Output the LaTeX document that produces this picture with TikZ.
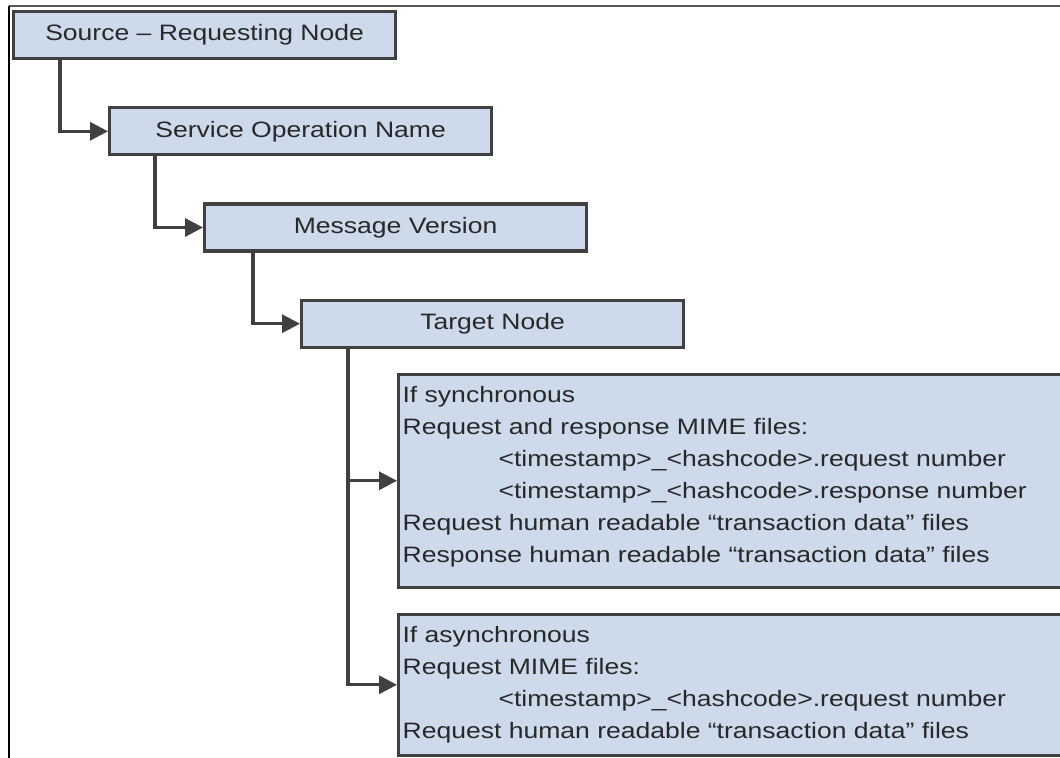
\documentclass[tikz,border=0pt]{standalone}
\usepackage{fontspec}
\setmainfont{Liberation Sans}[FakeStretch=1.19]
\usetikzlibrary{positioning, arrows.meta}
\definecolor{boxfill}{RGB}{205,218,236}
\definecolor{boxline}{RGB}{64,64,64}
\definecolor{textgrey}{RGB}{40,40,40}

\begin{document}
\begin{tikzpicture}[every node/.style = { draw = boxline, fill = boxfill, line width = 1.6pt, text = textgrey,
                                          font = \fontsize{11.15}{16}\selectfont },
                    level/.style = { minimum width = 191pt, minimum height = 23.5pt, anchor = north west },
                    filebox/.style = { inner xsep = 2pt, inner ysep = 6pt },
                    link/.style = { draw = boxline, line width = 1.6pt, -{Triangle[length = 9pt, width = 9pt]} }]

    \path [use as bounding box, clip] (0,0) rectangle (530pt,-379pt);
    \draw [black!65, line width = .75pt] (530pt,-3pt) -- (4.5pt,-3pt);
    \draw [black, line width = 1pt] (4.5pt,-3pt) -- (4.5pt,-379pt);

    \node [level] (source) at (6pt,-5pt) { Source – Requesting Node };
    \node [level, below right = 23pt and 48pt of source.south west] (operation) { Service Operation Name };
    \node [level, below right = 23pt and 47.5pt of operation.south west] (version) { Message Version };
    \node [level, below right = 23pt and 48.5pt of version.south west] (target) { Target Node };

    \node [filebox, below right = 12pt and 48.5pt of target.south west] (sync)
      { \parbox[t][94.4pt][t]{340pt}{If synchronous\\
        Request and response MIME files:\\
        \hspace*{48pt}<timestamp>\_<hashcode>.request number\\
        \hspace*{48pt}<timestamp>\_<hashcode>.response number\\
        Request human readable “transaction data” files\\
        Response human readable “transaction data” files} };
    \node [filebox, below right = 12pt and 0pt of sync.south west] (async)
      { \parbox[t][58.4pt][t]{340pt}{If asynchronous\\
        Request MIME files:\\
        \hspace*{48pt}<timestamp>\_<hashcode>.request number\\
        Request human readable “transaction data” files} };

    \draw [link] ([xshift = 24pt] source.south west) |- (operation.west);
    \draw [link] ([xshift = 23.5pt] operation.south west) |- (version.west);
    \draw [link] ([xshift = 25pt] version.south west) |- (target.west);
    \draw [link] ([xshift = 24pt] target.south west) |- (sync.west);
    \draw [link] ([xshift = 24pt] target.south west) |- (async.west);

\end{tikzpicture}
\end{document}
